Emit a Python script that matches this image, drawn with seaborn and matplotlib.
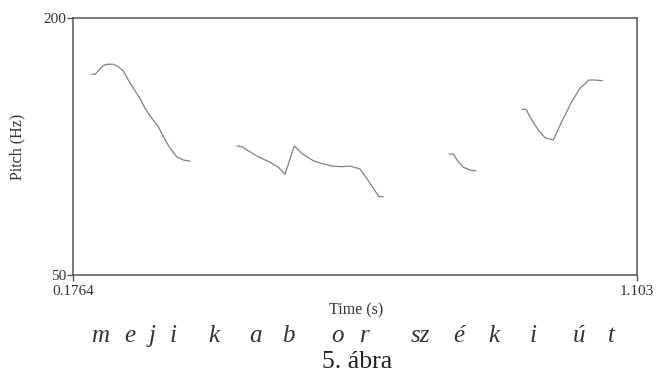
import matplotlib
matplotlib.use("Agg")
import matplotlib.pyplot as plt
import seaborn as sns
import pandas as pd

# ---- data ----
seg1_t = [0.2071, 0.2125, 0.2180, 0.2262, 0.2318, 0.2426, 0.2508, 0.2590, 0.2673, 0.2755,
          0.2865, 0.2947, 0.3057, 0.3165, 0.3248, 0.3358, 0.3468, 0.3576, 0.3686]
seg1_f = [167.1, 167.1, 169.2, 172.2, 173.0, 173.0, 171.6, 169.1, 163.8, 159.0,
          153.1, 147.3, 141.5, 136.6, 130.7, 124.0, 119.0, 117.1, 116.5]
seg2_t = [0.4453, 0.4536, 0.4644, 0.4808, 0.5001, 0.5137, 0.5247, 0.5400, 0.5521, 0.5712,
          0.5850, 0.6014, 0.6178, 0.6315, 0.6479, 0.6589, 0.6698, 0.6791, 0.6862]
seg2_f = [125.3, 124.9, 122.5, 119.0, 115.8, 112.9, 108.8, 125.3, 121.0, 116.7,
          115.0, 113.6, 113.2, 113.6, 111.9, 106.4, 100.6, 95.7, 95.7]
seg3_t = [0.7946, 0.8012, 0.8094, 0.8176, 0.8286, 0.8385]
seg3_f = [120.6, 120.6, 116.1, 112.9, 111.3, 110.7]
seg4_t = [0.9136, 0.9206, 0.9300, 0.9409, 0.9518, 0.9655, 0.9793, 0.9957, 1.0094, 1.0241,
          1.0340, 1.0460]
seg4_f = [146.7, 146.7, 140.5, 134.6, 130.1, 128.8, 139.5, 151.1, 159.0, 163.8,
          163.8, 163.4]

x_min, x_max = 0.1764, 1.103
y_min, y_max = 50, 200
x_tick_labels = ["0.1764", "1.103"]
y_tick_labels = ["50", "200"]

phon_letters = ["m", "e", "j", "i", "k", "a", "b", "o", "r", "sz", "é", "k", "i", "ú", "t"]
caption = "5. ábra"
x_label = "Time (s)"
y_label = "Pitch (Hz)"

# ---- layout ----
W, H = 656, 373
phon_px = [100, 130, 152, 173, 214, 255, 288, 337, 365, 420, 459, 494, 533, 579, 611]

frames = []
for i, (t, f) in enumerate([(seg1_t, seg1_f), (seg2_t, seg2_f), (seg3_t, seg3_f), (seg4_t, seg4_f)]):
    frames.append(pd.DataFrame({"time": t, "pitch": f, "seg": i}))
df = pd.concat(frames, ignore_index=True)

sns.set_theme(style="white")
plt.rcParams["font.family"] = ["Liberation Serif", "DejaVu Serif"]

fig = plt.figure(figsize=(W / 100, H / 100), dpi=100)
fig.patch.set_facecolor("white")
ax = fig.add_axes([73 / W, 1 - 275 / H, (637 - 73) / W, (275 - 18) / H])

sns.lineplot(data=df, x="time", y="pitch", units="seg", estimator=None,
             color="#808080", linewidth=0.9, ax=ax, legend=False)

ax.set_xlim(x_min, x_max)
ax.set_ylim(y_min, y_max)
ax.set_xticks([x_min, x_max])
ax.set_xticklabels(x_tick_labels)
ax.set_yticks([y_min, y_max])
ax.set_yticklabels(y_tick_labels)
ax.tick_params(axis="both", direction="out", length=4, width=1.0, color="#555555",
               labelsize=11, labelcolor="#333333", bottom=True, left=True)
ax.tick_params(axis="y", pad=1)
ax.tick_params(axis="x", pad=3)
for s in ax.spines.values():
    s.set_visible(True)
    s.set_color("#555555")
    s.set_linewidth(1.1)
ax.set_xlabel("")
ax.set_ylabel("")

fig.text(356 / W, 1 - 310 / H, x_label, ha="center", va="center", fontsize=11.5, color="#333333")
fig.text(17 / W, 1 - 147 / H, y_label, ha="center", va="center", rotation=90,
         fontsize=11.5, color="#333333")

for lab, px in zip(phon_letters, phon_px):
    fig.text(px / W, 1 - 336 / H, lab, ha="center", va="center", fontsize=18,
             style="italic", color="#333333")

fig.text(357 / W, 1 - 362 / H, caption, ha="center", va="center", fontsize=18.5, color="#222222")

fig.savefig("out.png", dpi=100, facecolor="white")
